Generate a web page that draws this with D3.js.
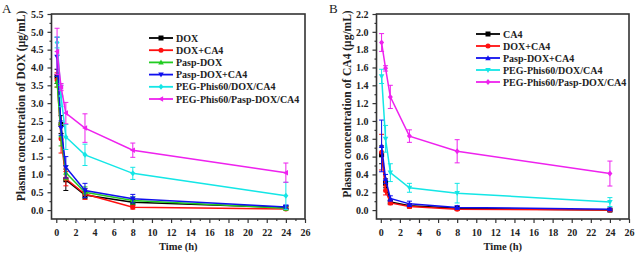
<!DOCTYPE html>
<html><head><meta charset="utf-8">
<script src="https://cdn.jsdelivr.net/npm/d3@7"></script>
<style>
body{margin:0;background:#fff;}
svg{display:block;}
text{font-family:"Liberation Serif","Times New Roman",serif;}
</style></head>
<body><svg id="c" width="637" height="254"></svg>
<script>
// ---- data ----
const timeH = [0.083, 0.5, 1, 3, 8, 24];
const xTicks = [0,2,4,6,8,10,12,14,16,18,20,22,24,26];
const yTicksA = [0,0.5,1,1.5,2,2.5,3,3.5,4,4.5,5,5.5];
const yTicksB = [0,0.2,0.4,0.6,0.8,1.0,1.2,1.4,1.6,1.8,2.0,2.2];

// Panel A: plasma DOX (ug/mL)
const namesA = ["DOX","DOX+CA4","Pasp-DOX","Pasp-DOX+CA4","PEG-Phis60/DOX/CA4","PEG-Phis60/Pasp-DOX/CA4"];
const aDOX       = [3.75, 2.40, 0.85, 0.42, 0.22, 0.07];
const aDOXerr    = [0.20, 0.25, 0.30, 0.10, 0.08, 0.04];
const aDOXCA4    = [3.65, 2.00, 0.88, 0.45, 0.08, 0.03];
const aDOXCA4err = [0.20, 0.40, 0.20, 0.15, 0.05, 0.02];
const aPasp      = [3.60, 2.10, 1.05, 0.50, 0.27, 0.05];
const aPaspErr   = [0.15, 0.30, 0.20, 0.15, 0.10, 0.05];
const aPaspCA4   = [4.30, 2.30, 1.20, 0.55, 0.32, 0.09];
const aPaspCA4err= [0.55, 0.20, 0.30, 0.20, 0.12, 0.05];
const aPEG       = [4.70, 3.20, 2.05, 1.55, 1.03, 0.40];
const aPEGerr    = [0.15, 0.30, 0.35, 0.30, 0.17, 0.38];
const aPEGPasp   = [4.45, 3.45, 2.72, 2.30, 1.68, 1.05];
const aPEGPaspErr= [0.65, 0.10, 0.30, 0.40, 0.20, 0.27];

// Panel B: plasma CA4 (ug/mL)
const namesB = ["CA4","DOX+CA4","Pasp-DOX+CA4","PEG-Phis60/DOX/CA4","PEG-Phis60/Pasp-DOX/CA4"];
const bCA4       = [0.62, 0.30, 0.09, 0.05, 0.02, 0.00];
const bCA4err    = [0.10, 0.05, 0.02, 0.02, 0.01, 0.01];
const bDOXCA4    = [0.65, 0.22, 0.08, 0.04, 0.01, 0.00];
const bDOXCA4err = [0.20, 0.05, 0.02, 0.02, 0.01, 0.01];
const bPaspCA4   = [0.72, 0.35, 0.13, 0.07, 0.03, 0.01];
const bPaspCA4err= [0.29, 0.05, 0.03, 0.03, 0.02, 0.01];
const bPEG       = [1.50, 0.80, 0.42, 0.25, 0.19, 0.09];
const bPEGerr    = [0.08, 0.15, 0.10, 0.05, 0.11, 0.05];
const bPEGPasp   = [1.88, 1.59, 1.27, 0.83, 0.66, 0.41];
const bPEGPaspErr= [0.10, 0.03, 0.13, 0.07, 0.13, 0.14];

const colors = {black:"#000000", red:"#ff1010", green:"#22cc22", blue:"#1010ee", cyan:"#14e6e6", magenta:"#ee22ee"};

const svg = d3.select("#c");

function markerPath(type, s){
  const h=s/2;
  switch(type){
    case "square": return `M${-h},${-h}H${h}V${h}H${-h}Z`;
    case "circle": return d3.symbol(d3.symbolCircle, s*s*0.8)();
    case "up": return `M0,${-h*1.15}L${h*1.1},${h*0.85}L${-h*1.1},${h*0.85}Z`;
    case "down": return `M0,${h*1.15}L${h*1.1},${-h*0.85}L${-h*1.1},${-h*0.85}Z`;
    case "diamond": return `M0,${-h*1.2}L${h},0L0,${h*1.2}L${-h},0Z`;
    case "left": return `M${-h*1.15},0L${h*0.85},${-h*1.1}L${h*0.85},${h*1.1}Z`;
  }
}

function panel(cfg){
  const g = svg.append("g");
  const x = d3.scaleLinear().domain(cfg.xDomain).range([cfg.left, cfg.right]);
  const y = d3.scaleLinear().domain(cfg.yDomain).range([cfg.bottom, cfg.top]);

  const xAxis = d3.axisBottom(x).tickValues(xTicks).tickSize(4).tickFormat(d3.format("d"));
  const xMinor = d3.axisBottom(x).tickValues(d3.range(1,26,2)).tickSize(2).tickFormat("");
  const yAxis = d3.axisLeft(y).tickValues(cfg.yTicks).tickSize(4).tickFormat(d3.format(".1f"));
  const yMinor = d3.axisLeft(y).tickValues(cfg.yMinor).tickSize(2).tickFormat("");

  [ [xAxis,"x"],[xMinor,"x"],[yAxis,"y"],[yMinor,"y"] ].forEach(([ax,t])=>{
    const a = g.append("g")
      .attr("transform", t==="x" ? `translate(0,${cfg.bottom})` : `translate(${cfg.left},0)`)
      .call(ax);
    a.select(".domain").remove();
    a.selectAll("line").attr("stroke","#333").attr("stroke-width",1.2);
    a.selectAll("text").attr("font-family","Liberation Serif").attr("font-weight","bold")
      .attr("font-size","10px").attr("fill","#222");
    if(t==="x") a.selectAll("text").attr("dy","0.95em");
    else a.selectAll("text").attr("dx","-0.1em");
  });

  g.append("rect").attr("x",cfg.left).attr("y",cfg.top)
    .attr("width",cfg.right-cfg.left).attr("height",cfg.bottom-cfg.top)
    .attr("fill","none").attr("stroke","#333").attr("stroke-width",1.6);

  const line = d3.line().x((d,i)=>x(timeH[i])).y(d=>y(d));

  cfg.series.forEach(s=>{
    const sg = g.append("g");
    s.values.forEach((v,i)=>{
      const cx = x(timeH[i]);
      const y1 = y(v + s.err[i]), y0 = y(Math.max(v - s.err[i], cfg.yDomain[0]));
      sg.append("line").attr("x1",cx).attr("x2",cx).attr("y1",y1).attr("y2",y0)
        .attr("stroke",s.color).attr("stroke-width",1);
      [y1,y0].forEach(yy=>sg.append("line").attr("x1",cx-2.5).attr("x2",cx+2.5)
        .attr("y1",yy).attr("y2",yy).attr("stroke",s.color).attr("stroke-width",1));
    });
    sg.append("path").attr("d",line(s.values)).attr("fill","none")
      .attr("stroke",s.color).attr("stroke-width",1.5);
    s.values.forEach((v,i)=>{
      sg.append("path").attr("d",markerPath(s.marker,5))
        .attr("transform",`translate(${x(timeH[i])},${y(v)})`).attr("fill",s.color);
    });
  });

  cfg.series.forEach((s,i)=>{
    const ly = cfg.legY + i*cfg.legDy;
    g.append("line").attr("x1",cfg.legX).attr("x2",cfg.legX+24).attr("y1",ly).attr("y2",ly)
      .attr("stroke",s.color).attr("stroke-width",1.8);
    g.append("path").attr("d",markerPath(s.marker,5))
      .attr("transform",`translate(${cfg.legX+12},${ly})`).attr("fill",s.color);
    g.append("text").attr("x",cfg.legX+27).attr("y",ly).attr("dy","0.35em")
      .attr("font-weight","bold").attr("font-size","10px").attr("fill","#222").text(s.name);
  });

  g.append("text").attr("x",(cfg.left+cfg.right)/2).attr("y",250).attr("text-anchor","middle")
    .attr("font-weight","bold").attr("font-size","10.5px").attr("fill","#222").text("Time (h)");
  g.append("text").attr("transform",`translate(${cfg.yLabelX},${cfg.yLabelY}) rotate(-90)`)
    .attr("text-anchor","middle").attr("font-weight","bold").attr("font-size","11.5px")
    .attr("fill","#222").text(cfg.yLabel);
  g.append("text").attr("x",cfg.tagX).attr("y",13).attr("font-size","13px").attr("fill","#222").text(cfg.tag);
}

panel({
  tag:"A", tagX:2,
  left:51.5, right:305, top:14, bottom:219,
  xDomain:[-0.5,26], yDomain:[-0.25,5.5],
  yTicks:yTicksA, yMinor:d3.range(0.25,5.5,0.5),
  yLabel:"Plasma concentration of DOX (\u03bcg/mL)", yLabelX:25, yLabelY:106,
  legX:149, legY:38, legDy:12.2,
  series:[
    {name:namesA[0], values:aDOX, err:aDOXerr, color:colors.black, marker:"square"},
    {name:namesA[1], values:aDOXCA4, err:aDOXCA4err, color:colors.red, marker:"circle"},
    {name:namesA[2], values:aPasp, err:aPaspErr, color:colors.green, marker:"up"},
    {name:namesA[3], values:aPaspCA4, err:aPaspCA4err, color:colors.blue, marker:"down"},
    {name:namesA[4], values:aPEG, err:aPEGerr, color:colors.cyan, marker:"diamond"},
    {name:namesA[5], values:aPEGPasp, err:aPEGPaspErr, color:colors.magenta, marker:"left"}
  ]
});

panel({
  tag:"B", tagX:329,
  left:376.5, right:629, top:14, bottom:219,
  xDomain:[-0.45,26], yDomain:[-0.1,2.2],
  yTicks:yTicksB, yMinor:d3.range(0.1,2.2,0.2),
  yLabel:"Plasma concentration of CA4 (\u03bcg/mL)", yLabelX:351, yLabelY:104,
  legX:476, legY:34, legDy:12,
  series:[
    {name:namesB[0], values:bCA4, err:bCA4err, color:colors.black, marker:"square"},
    {name:namesB[1], values:bDOXCA4, err:bDOXCA4err, color:colors.red, marker:"circle"},
    {name:namesB[2], values:bPaspCA4, err:bPaspCA4err, color:colors.blue, marker:"up"},
    {name:namesB[3], values:bPEG, err:bPEGerr, color:colors.cyan, marker:"down"},
    {name:namesB[4], values:bPEGPasp, err:bPEGPaspErr, color:colors.magenta, marker:"diamond"}
  ]
});
</script></body></html>
